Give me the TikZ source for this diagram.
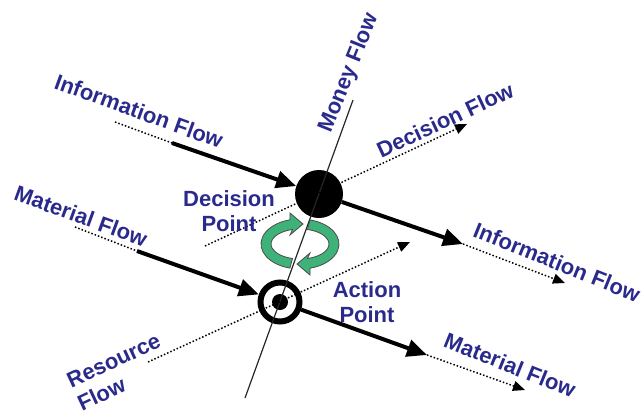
\documentclass[tikz,border=0pt]{standalone}
\usepackage{fontspec}
\setmainfont{Liberation Sans}
\usetikzlibrary{arrows.meta}
\definecolor{flowblue}{RGB}{42,42,140}
\definecolor{cyclegreen}{RGB}{62,178,120}
\tikzset{lbl/.style={text=flowblue,font=\fontsize{22}{25}\selectfont\bfseries,inner sep=0pt,align=center},
  thickarr/.style={-{Triangle[length=20pt,width=17pt]},line width=4pt},
  dotline/.style={line width=1.5pt,dash pattern=on 1.5pt off 2pt},
  dotarr/.style={dotline,-{Triangle[length=12pt,width=10pt]}},
  moneyline/.style={line width=1.2pt,black!85},
  cycarr/.style={fill=cyclegreen,draw=black!70,line width=0.8pt}}

\begin{document}
\begin{tikzpicture}[x=1pt,y=-1pt]
\useasboundingbox (0,0) rectangle (642,416);
% free ends of the flows
\coordinate (mB) at (245,398); \coordinate (mT) at (353,100);
\coordinate (dfS) at (205,246); \coordinate (dfE) at (467,124);
\coordinate (rfS) at (148,362); \coordinate (rfE) at (410,242);
\coordinate (iiS) at (115,122); \coordinate (iiM) at (172,143);
\coordinate (miS) at (75,227); \coordinate (miM) at (137,251);
\coordinate (ioM) at (463,244); \coordinate (ioE) at (565,283);
\coordinate (moM) at (427,355); \coordinate (moE) at (525,390);
% decision and action points
\node[circle,fill=black,minimum size=48pt,inner sep=0pt] (dp) at (319,194) {};
\node[circle,draw,line width=6pt,minimum size=39pt,inner sep=0pt] (ap) at (280,302) {};
\node[circle,fill=black,minimum size=16pt,inner sep=0pt] (apc) at (ap) {};
% flows
\draw[moneyline] (mB) -- (mT);
\draw[dotarr] (dfS) -- (dfE); \draw[dotarr] (rfS) -- (rfE);
\draw[dotline] (iiS) -- (iiM); \draw[thickarr] (iiM) -- (dp);
\draw[dotline] (miS) -- (miM); \draw[thickarr] (miM) -- (ap);
\draw[thickarr] (dp) -- (ioM); \draw[dotarr] (ioM) -- (ioE);
\draw[thickarr] (ap) -- (moM); \draw[dotarr] (moM) -- (moE);
% cycle arrows
\begin{scope}[shift={(300,244)}]
\draw[cycarr] (-10.1,24.1) arc[start angle=105,end angle=255,x radius=39,y radius=25] -- (-10,-31) -- (3,-20) -- (-10,-9) -- (-7.5,-14.5) arc[start angle=255,end angle=105,x radius=29,y radius=15] -- cycle;
\draw[cycarr] (10.1,-24.1) arc[start angle=-75,end angle=75,x radius=39,y radius=25] -- (10,31) -- (-3,20) -- (10,9) -- (7.5,14.5) arc[start angle=75,end angle=-75,x radius=29,y radius=15] -- cycle;
\end{scope}
% labels
\node[lbl,rotate=-20] (iiL) at (139,111) {Information Flow};
\node[lbl,rotate=68] (mL) at (349,73) {Money Flow};
\node[lbl,rotate=25] (dfL) at (445,120) {Decision Flow};
\node[lbl] (dpL) at (229,211) {Decision\\Point};
\node[lbl,rotate=-20] (miL) at (81,216) {Material Flow};
\node[lbl,rotate=25,align=left] (rfL) at (119,372) {Resource\\Flow};
\node[lbl] (apL) at (367,302) {Action\\Point};
\node[lbl,rotate=-22] (ioL) at (557,262) {Information Flow};
\node[lbl,rotate=-22] (moL) at (510,365) {Material Flow};
\end{tikzpicture}
\end{document}
